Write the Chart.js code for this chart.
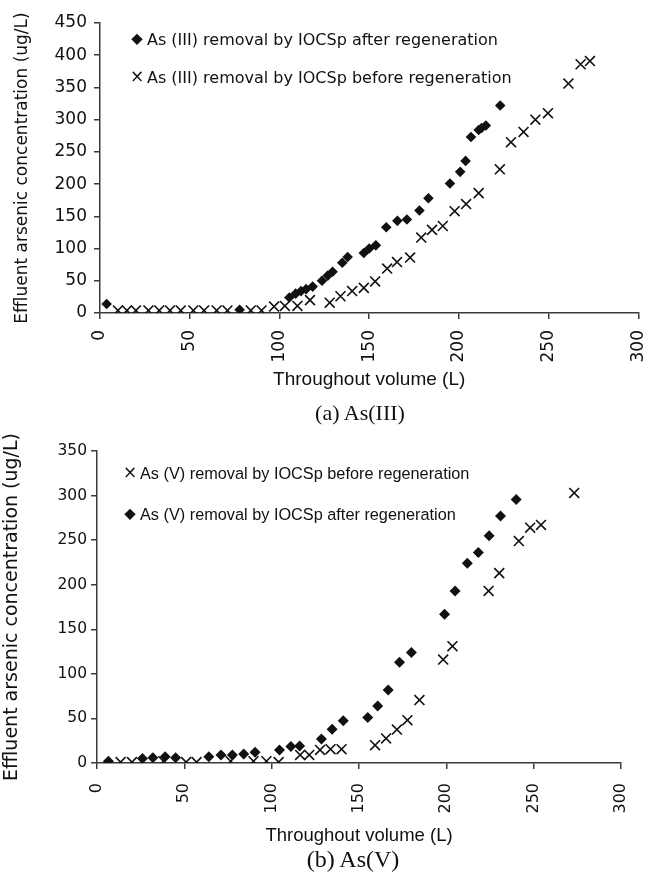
<!DOCTYPE html>
<html>
<head>
<meta charset="utf-8">
<script src="https://cdn.jsdelivr.net/npm/chart.js@4.4.1/dist/chart.umd.min.js"></script>
<style>
  body { margin: 0; background: #fff; width: 647px; height: 874px; position: relative; overflow: hidden; }
  .box { position: absolute; left: 0; width: 647px; }
  .item { position: absolute; white-space: nowrap; color: #111; line-height: 1; transform: translateY(-50%); }
  .diamond { position: absolute; width: 7.5px; height: 7.5px; background: #111; transform: translate(-50%, -50%) rotate(45deg); }
  .cross { position: absolute; transform: translate(-50%, -52%); font-family: 'DejaVu Sans'; line-height: 1; color: #111; }
  .cap { position: absolute; font-family: 'Liberation Serif'; color: #111; transform: translate(-50%, -50%); white-space: nowrap; }
</style>
</head>
<body>
<div class="box" style="top:0;height:400px"><canvas id="chartA"></canvas></div>
<div class="box" style="top:425px;height:425px"><canvas id="chartB"></canvas></div>
<div class="cap" style="left:360px;top:413px;font-size:22px">(a) As(III)</div>
<div class="cap" style="left:353px;top:859px;font-size:24px">(b) As(V)</div>
<script>
  'use strict';

  // (a) As(III)
  const asIIIAfterVol  = [3.7, 77.8, 105.5, 109, 112, 114.8, 118.5, 123.7, 126.9, 129.6, 135, 138, 147, 150, 153.7, 159.5, 165.7, 171, 178, 183, 195, 200.7, 203.7, 206.7, 211, 212.6, 215, 223];
  const asIIIAfterConc = [14, 5, 24, 30, 34, 37, 41, 50, 58, 64, 78, 87, 93, 100, 105, 133, 143, 145, 159, 178, 201, 219, 236, 273, 284, 287, 291, 322];
  const asIIIBeforeVol  = [10, 15, 20, 27, 33, 39, 45, 52, 58, 65, 71, 84, 90, 97, 103, 110, 117, 128, 134, 140.5, 147, 153.3, 160, 165.5, 172.8, 179, 185, 191, 197.6, 204, 211, 222.8, 229, 236, 242.6, 249.6, 261, 267.8, 273];
  const asIIIBeforeConc = [4, 4, 4, 4, 4, 4, 4, 4, 4, 4, 4, 4, 4, 10, 11, 11, 20, 16, 26, 34, 39, 49, 69, 79, 86, 117, 129, 135, 158, 169, 186, 223, 265, 281, 300, 310, 356, 386, 391];

  // (b) As(V)
  const asVBeforeVol  = [13.5, 20, 38, 51, 57, 76.5, 89.6, 97, 104, 116.3, 121.5, 127.7, 133.7, 140, 159.2, 165.5, 171.7, 177.7, 184.6, 198.2, 203.5, 224.2, 230.3, 241.5, 248, 254.2, 273.2];
  const asVBeforeConc = [1, 1, 2, 1, 1, 2, 2, 2, 1, 9, 9, 14.6, 15.5, 15.5, 20, 27.5, 37.5, 48, 70.6, 116, 131, 193, 213, 249, 264, 267, 303];
  const asVAfterVol  = [6.5, 26, 32, 39, 45, 64, 71, 77.5, 84, 90.5, 104.5, 111, 116, 128.5, 134.6, 141, 155, 160.7, 166.7, 173.2, 180, 199, 205, 212, 218.3, 224.5, 231, 240];
  const asVAfterConc = [2, 5, 6, 7, 6, 7, 9, 9, 10, 12, 14.5, 18.5, 19, 27, 38, 47.5, 51, 64, 82, 113, 124, 167, 193, 224, 236, 255, 277, 295.5];

  const xTicks = [0, 50, 100, 150, 200, 250, 300];

  const INK = '#111';
  const AXIS = '#3a3a3a';

  const toPoints = (xs, ys) => xs.map((x, i) => ({ x, y: ys[i] }));

  function diamondSet(label, xs, ys, r) {
    return { label, data: toPoints(xs, ys), pointStyle: 'rectRot', pointRadius: r, pointHoverRadius: r,
      backgroundColor: INK, borderColor: INK, borderWidth: 0, showLine: false };
  }
  function crossSet(label, xs, ys, r) {
    return { label, data: toPoints(xs, ys), pointStyle: 'crossRot', pointRadius: r, pointHoverRadius: r,
      backgroundColor: INK, borderColor: INK, pointBorderWidth: 1.6, showLine: false };
  }

  function xAxis(cfg) {
    return {
      type: 'linear', min: 0, max: 300,
      afterBuildTicks: s => { s.ticks = xTicks.map(v => ({ value: v })); },
      ticks: { minRotation: 90, maxRotation: 90, color: INK, padding: cfg.tickPad,
        font: { family: 'DejaVu Sans', size: cfg.tickSize } },
      grid: { drawOnChartArea: false, tickLength: 6, color: AXIS, lineWidth: 1.5 },
      border: { color: AXIS, width: 1.5 },
      title: { display: true, text: 'Throughout volume (L)', color: INK,
        font: { family: 'Liberation Sans', size: cfg.titleSize }, padding: { top: 0, bottom: cfg.titlePad } },
      afterFit: s => { s.height = cfg.height; s.paddingLeft = 0; s.paddingRight = 0; }
    };
  }

  function yAxis(cfg) {
    return {
      type: 'linear', min: 0, max: cfg.max,
      ticks: { stepSize: 50, color: INK, padding: cfg.tickPad, font: { family: 'DejaVu Sans', size: cfg.tickSize } },
      grid: { drawOnChartArea: false, tickLength: 6, color: AXIS, lineWidth: 1.5 },
      border: { color: AXIS, width: 1.5 },
      title: { display: true, text: 'Effluent arsenic concentration (ug/L)', color: INK,
        font: { family: 'DejaVu Sans', size: cfg.titleSize }, padding: { top: cfg.titlePad, bottom: 0 } },
      afterFit: s => { s.width = cfg.width; s.paddingTop = 0; s.paddingBottom = 0; }
    };
  }

  function makeChart(id, datasets, x, y, padding) {
    return new Chart(document.getElementById(id), {
      type: 'scatter',
      data: { datasets },
      options: {
        responsive: true, maintainAspectRatio: false, animation: false,
        layout: { padding },
        plugins: { legend: { display: false }, tooltip: { enabled: false } },
        scales: { x: xAxis(x), y: yAxis(y) }
      }
    });
  }

  const chartA = makeChart('chartA', [
    diamondSet('As (III) removal by IOCSp after regeneration', asIIIAfterVol, asIIIAfterConc, 5.3),
    crossSet('As (III) removal by IOCSp before regeneration', asIIIBeforeVol, asIIIBeforeConc, 7)
  ], { height: 87, tickSize: 17, tickPad: 11, titleSize: 19, titlePad: 9 },
     { max: 450, width: 100, tickSize: 17, tickPad: 7, titleSize: 17, titlePad: 12 },
     { top: 23, right: 7, left: 0, bottom: 0 });

  const chartB = makeChart('chartB', [
    crossSet('As (V) removal by IOCSp before regeneration', asVBeforeVol, asVBeforeConc, 7),
    diamondSet('As (V) removal by IOCSp after regeneration', asVAfterVol, asVAfterConc, 5.5)
  ], { height: 87, tickSize: 16, tickPad: 14, titleSize: 18.5, titlePad: 3 },
     { max: 350, width: 97, tickSize: 15.5, tickPad: 4, titleSize: 19, titlePad: 1 },
     { top: 26, right: 26, left: 0, bottom: 0 });

  // legend drawn inside the plot, as in the original figure
  function htmlLegend(chart, boxTop, spots, font) {
    chart.data.datasets.forEach((ds, i) => {
      const s = spots[i];
      const mark = document.createElement('div');
      if (ds.pointStyle === 'rectRot') {
        mark.className = 'diamond';
      } else {
        mark.className = 'cross';
        mark.textContent = '×';
        mark.style.fontSize = '17px';
      }
      mark.style.left = s.mx + 'px';
      mark.style.top = (boxTop + s.y) + 'px';
      document.body.appendChild(mark);
      const txt = document.createElement('div');
      txt.className = 'item';
      txt.textContent = ds.label;
      txt.style.left = s.tx + 'px';
      txt.style.top = (boxTop + s.y) + 'px';
      txt.style.font = font;
      document.body.appendChild(txt);
    });
  }

  htmlLegend(chartA, 0, [{ mx: 137, tx: 147, y: 38.5 }, { mx: 137, tx: 147, y: 77 }], "16px 'DejaVu Sans'");
  htmlLegend(chartB, 0, [{ mx: 130, tx: 140, y: 473 }, { mx: 130, tx: 140, y: 514 }], "16.3px 'Liberation Sans'");
</script>
</body>
</html>
